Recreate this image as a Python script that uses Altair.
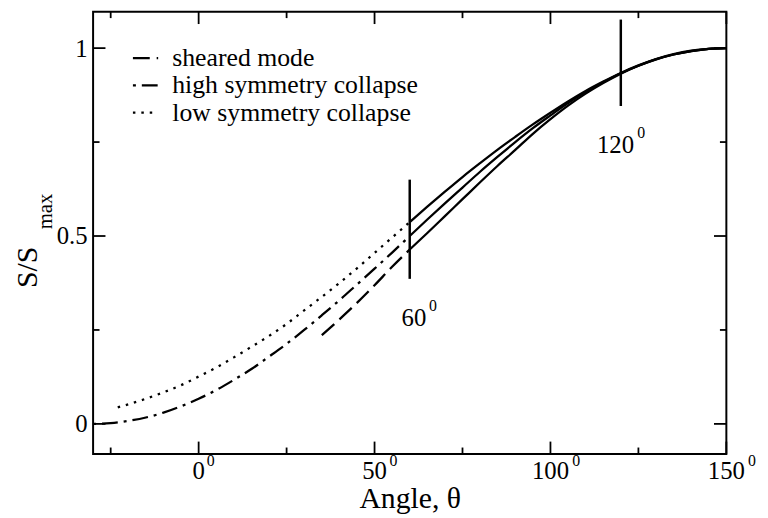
import altair as alt
import pandas as pd

# ---------------- data ----------------
series_names = ["sheared mode", "high symmetry collapse", "low symmetry collapse"]

# dashed / dotted (theta < 60) parts
theta_shear_dash = [35, 40, 45, 50, 55, 60]
S_shear_dash = [0.236, 0.278, 0.322, 0.369, 0.418, 0.464]

theta_high_dash = [-30, -25, -20, -15, -10, -5, 0, 5, 10, 15, 20, 25, 30, 35, 40, 45, 50, 55, 60]
S_high_dash = [0.0, 0.002, 0.008, 0.017, 0.030, 0.047, 0.067, 0.090, 0.117, 0.146,
               0.179, 0.213, 0.250, 0.289, 0.329, 0.371, 0.413, 0.456, 0.500]

theta_low_dot = [-23, -20, -15, -10, -5, 0, 5, 10, 15, 20, 25, 30, 35, 40, 45, 50, 55, 60]
S_low_dot = [0.044, 0.052, 0.067, 0.084, 0.103, 0.126, 0.150, 0.177, 0.205, 0.234,
             0.266, 0.302, 0.338, 0.375, 0.414, 0.455, 0.496, 0.537]

# solid (theta >= 60) parts
theta_solid = [60, 65, 70, 75, 80, 85, 90, 95, 100, 105, 110, 115, 120, 125, 130, 135, 140, 145, 150]
S_shear_solid = [0.464, 0.508, 0.553, 0.598, 0.643, 0.687, 0.729, 0.772, 0.811, 0.847,
                 0.879, 0.907, 0.932, 0.953, 0.970, 0.983, 0.992, 0.998, 1.0]
S_high_solid = [0.500, 0.544, 0.587, 0.629, 0.671, 0.711, 0.750, 0.787, 0.821, 0.854,
                0.883, 0.909, 0.933, 0.953, 0.970, 0.983, 0.992, 0.998, 1.0]
S_low_solid = [0.537, 0.578, 0.618, 0.657, 0.694, 0.730, 0.764, 0.797, 0.828, 0.858,
               0.886, 0.911, 0.934, 0.954, 0.971, 0.984, 0.993, 0.998, 1.0]

# vertical marker bars
bar_theta = [60, 120]
bar_lo = [0.386, 0.846]
bar_hi = [0.650, 1.076]

# annotations
ann_labels = ["60", "120"]
ann_theta = [61.2, 118.5]
ann_S = [0.26, 0.721]

# axis ticks
x_major = [0, 50, 100, 150]
x_major_labels = ["0", "50", "100", "150"]
x_minor = [-25, 25, 75, 125]
y_major = [0, 0.5, 1]
y_minor = [0.25, 0.75]

# ---------------- layout / style ----------------
W, H = 640, 447
XMIN, XMAX = -30, 150
YMIN, YMAX = -0.08, 1.097
FONT = "Liberation Serif, Times New Roman, Times, DejaVu Serif, serif"
LW = 2.3

xs = alt.Scale(domain=[XMIN, XMAX], nice=False, zero=False)
ys = alt.Scale(domain=[YMIN, YMAX], nice=False, zero=False)

x_axis = alt.Axis(labels=False, ticks=False, domain=False, grid=False,
                  title="Angle, θ", titleFont=FONT, titleFontSize=30,
                  titleFontWeight="normal", titleColor="black",
                  titleBaseline="alphabetic", titleY=54)
y_axis = alt.Axis(values=y_major, format=".1~f", ticks=False, tickSize=0,
                  domain=False, grid=False, labelFont=FONT, labelFontSize=25,
                  labelColor="black", labelPadding=6, title=None)

X = lambda f: alt.X(f, scale=xs, axis=x_axis)
Y = lambda f: alt.Y(f, scale=ys, axis=y_axis)

dash_df = pd.concat([
    pd.DataFrame({"theta": theta_shear_dash, "S": S_shear_dash, "series": series_names[0]}),
    pd.DataFrame({"theta": theta_high_dash, "S": S_high_dash, "series": series_names[1]}),
    pd.DataFrame({"theta": theta_low_dot, "S": S_low_dot, "series": series_names[2]}),
])
solid_df = pd.concat([
    pd.DataFrame({"theta": theta_solid, "S": S_shear_solid, "series": series_names[0]}),
    pd.DataFrame({"theta": theta_solid, "S": S_high_solid, "series": series_names[1]}),
    pd.DataFrame({"theta": theta_solid, "S": S_low_solid, "series": series_names[2]}),
])

dash_layer = alt.Chart(dash_df).mark_line(color="black", strokeWidth=LW, interpolate="monotone").encode(
    x=X("theta:Q"), y=Y("S:Q"),
    strokeDash=alt.StrokeDash(
        "series:N",
        scale=alt.Scale(domain=series_names, range=[[17, 7], [3, 6, 16, 6], [2.5, 6]]),
        legend=alt.Legend(orient="none", legendX=39, legendY=33, title=None,
                          symbolType="stroke", symbolSize=650, symbolStrokeWidth=LW,
                          symbolStrokeColor="black", labelFont=FONT, labelFontSize=26,
                          labelColor="black", labelOffset=13, rowPadding=0.5,
                          padding=0, labelLimit=400),
    ),
)

solid_layer = alt.Chart(solid_df).mark_line(color="black", strokeWidth=LW, interpolate="monotone").encode(
    x=X("theta:Q"), y=Y("S:Q"), detail="series:N",
)

bars = alt.Chart(pd.DataFrame({"t": bar_theta, "lo": bar_lo, "hi": bar_hi})).mark_rule(
    color="black", strokeWidth=2.5).encode(x=X("t:Q"), y=Y("lo:Q"), y2="hi:Q")


def tick_layer(vals, side, length):
    base = alt.Chart(pd.DataFrame({"v": vals})).mark_rule(color="black", strokeWidth=1.8)
    if side == "bottom":
        return base.encode(x=X("v:Q"), y=alt.value(H), y2=alt.value(H - length))
    if side == "top":
        return base.encode(x=X("v:Q"), y=alt.value(0), y2=alt.value(length))
    if side == "left":
        return base.encode(y=Y("v:Q"), x=alt.value(0), x2=alt.value(length))
    return base.encode(y=Y("v:Q"), x=alt.value(W), x2=alt.value(W - length))


ticks = []
for side in ["bottom", "top"]:
    ticks.append(tick_layer(x_major, side, 12.5))
    ticks.append(tick_layer(x_minor, side, 6.5))
for side in ["left", "right"]:
    ticks.append(tick_layer(y_major, side, 12.5))
    ticks.append(tick_layer(y_minor, side, 6.5))

sup_shift = f"(6.8*length(datum.lab) + 5.5)*{(XMAX - XMIN) / W}"

xt_df = pd.DataFrame({"t": x_major, "lab": x_major_labels})
x_nums = alt.Chart(xt_df).mark_text(font=FONT, fontSize=25, baseline="alphabetic",
                                    align="center", dy=25, color="black").encode(
    x=X("t:Q"), y=alt.value(H), text="lab:N")
x_sups = alt.Chart(xt_df).transform_calculate(ts="datum.t + " + sup_shift).mark_text(
    font=FONT, fontSize=16, baseline="alphabetic", align="center", dy=12, color="black").encode(
    x=X("ts:Q"), y=alt.value(H), text=alt.value("0"))

ann_df = pd.DataFrame({"t": ann_theta, "s": ann_S, "lab": ann_labels})
ann_nums = alt.Chart(ann_df).mark_text(font=FONT, fontSize=25, baseline="alphabetic",
                                       align="center", color="black").encode(
    x=X("t:Q"), y=Y("s:Q"), text="lab:N")
ann_sups = alt.Chart(ann_df).transform_calculate(ts="datum.t + " + sup_shift).mark_text(
    font=FONT, fontSize=16, baseline="alphabetic", align="center", dy=-15.5, color="black").encode(
    x=X("ts:Q"), y=Y("s:Q"), text=alt.value("0"))

one = pd.DataFrame({"a": [0]})
ytitle_main = alt.Chart(one).mark_text(text="S/S", font=FONT, fontSize=30, angle=270,
                                       align="center", baseline="alphabetic", color="black").encode(
    x=alt.value(-57), y=alt.value(258.5))
ytitle_sub = alt.Chart(one).mark_text(text="max", font=FONT, fontSize=21, angle=270,
                                      align="left", baseline="alphabetic", color="black").encode(
    x=alt.value(-42), y=alt.value(220))

chart = alt.layer(
    dash_layer, solid_layer, bars, *ticks, x_nums, x_sups, ann_nums, ann_sups,
    ytitle_main, ytitle_sub,
).properties(
    width=W, height=H,
    padding={"left": 86, "top": 1, "right": 34, "bottom": 61},
    autosize=alt.AutoSizeParams(type="none"),
    background="white",
).configure_view(stroke="black", strokeWidth=2)

chart.save("out.html", embed_options={"renderer": "svg", "actions": False})
